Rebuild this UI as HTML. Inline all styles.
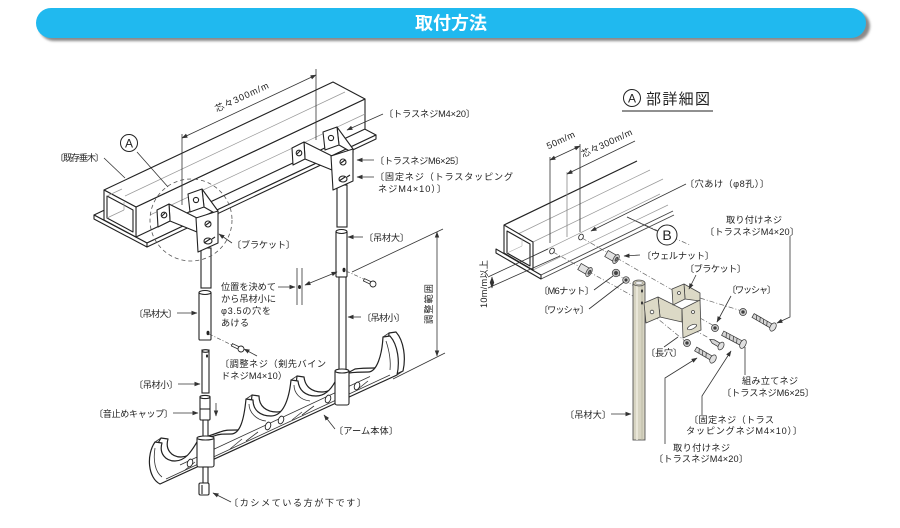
<!DOCTYPE html>
<html><head><meta charset="utf-8">
<style>
html,body{margin:0;padding:0;background:#fff;}
svg{display:block;}
text{font-family:"Liberation Sans","Noto Sans CJK JP",sans-serif;}
.t{font-size:9.2px;fill:#222;}
</style></head><body>
<svg width="900" height="528" viewBox="0 0 900 528" xmlns="http://www.w3.org/2000/svg">
<defs>
<marker id="ar" markerWidth="6" markerHeight="6" refX="5.5" refY="3" orient="auto" markerUnits="userSpaceOnUse">
<path d="M0,0.8 L6,3 L0,5.2 z" fill="#333"/>
</marker>
<marker id="as" markerWidth="6" markerHeight="6" refX="0.5" refY="3" orient="auto" markerUnits="userSpaceOnUse">
<path d="M6,0.8 L0,3 L6,5.2 z" fill="#333"/>
</marker>
<filter id="sh" x="-5%" y="-50%" width="110%" height="200%"><feGaussianBlur stdDeviation="1.3"/></filter>
</defs>

<!-- HEADER -->
<rect x="39" y="11" width="831" height="30" rx="15" fill="#8a8a8a" filter="url(#sh)"/>
<rect x="36" y="8" width="830" height="30" rx="15" fill="#20b9ef"/>
<text x="451" y="29.5" font-size="18" font-weight="bold" fill="#fff" text-anchor="middle">取付方法</text>

<!-- ================= LEFT DIAGRAM ================= -->
<g stroke="#222" stroke-width="1.1" fill="#fff" stroke-linejoin="round">
  <polygon points="94,215 323,107 376,135 147,243"/>
  <polygon points="94,215 147,243 147,247 94,219"/>
  <polygon points="147,243 376,135 376,139 147,247"/>
  <polygon points="136,207 365,99 365,129 136,237"/>
  <polygon points="104,190 333,82 365,99 136,207"/>
  <polygon points="104,190 136,207 136,237 104,220"/>
  <polygon points="107,196 133,210 133,232 107,218"/>
</g>
<g stroke="#999" stroke-width="0.7" fill="none">
  <line x1="107" y1="218" x2="124" y2="210"/>
  <line x1="107" y1="196" x2="122" y2="189"/>
  <line x1="124" y1="210" x2="124" y2="202"/>
  <line x1="150" y1="215" x2="365" y2="114"/>
  <line x1="125" y1="196" x2="345" y2="92"/>
</g>

<!-- dimension 300 (left) -->
<g stroke="#333" stroke-width="0.8" fill="none">
  <line x1="182" y1="134" x2="182" y2="205"/>
  <line x1="316" y1="69" x2="316" y2="140"/>
  <line x1="182" y1="138" x2="316" y2="75" marker-start="url(#as)" marker-end="url(#ar)"/>
</g>
<text class="t" transform="translate(243,100) rotate(-25)" text-anchor="middle" textLength="58">芯々300m/m</text>

<!-- poles left -->
<g fill="#fff" stroke="#222" stroke-width="1.1">
  <rect x="201" y="248" width="10" height="40"/>
  <rect x="199" y="292" width="12" height="48" rx="1"/>
  <ellipse cx="205" cy="292.5" rx="6" ry="2"/>
  <rect x="202" y="350" width="7" height="43"/>
  <ellipse cx="205.5" cy="351" rx="3.5" ry="1.3"/>
  <rect x="200" y="396" width="10" height="24" rx="1"/>
  <line x1="200" y1="409" x2="210" y2="409"/>
  <ellipse cx="205" cy="397" rx="5" ry="1.6"/>
  <rect x="337" y="185" width="10" height="42"/>
  <rect x="336" y="231" width="11" height="46" rx="1"/>
  <ellipse cx="341.5" cy="231.5" rx="5.5" ry="2"/>
  <rect x="339" y="277" width="7" height="93"/>
</g>
<g fill="#222">
  <ellipse cx="208" cy="333" rx="1.5" ry="2.2"/>
  <ellipse cx="344" cy="270" rx="1.5" ry="2.2"/>
  <ellipse cx="207" cy="356" rx="1" ry="1.6"/>
</g>

<!-- brackets (left diagram) -->
<g fill="#fff" stroke="#222" stroke-width="1.1" stroke-linejoin="round">
  <polygon points="169,204 197,218 197,232 170,221"/>
  <polygon points="157,210 169,204 170,221 158,227"/>
  <circle cx="164" cy="215" r="2.8"/>
  <path d="M162,216 l3,-3" fill="none"/>
  <polygon points="202,189 218,211 218,215 204,207"/>
  <polygon points="188,194 202,189 204,207 190,212"/>
  <circle cx="196" cy="200" r="2.6"/>
  <polygon points="196,218 218,211 218,243 198,252"/>
  <circle cx="208" cy="224" r="3"/>
  <path d="M206,225 l4,-3" fill="none"/>
  <ellipse cx="208" cy="241" rx="4" ry="3"/>
  <path d="M204,243 l6,-4 M212,239 l3,-2" fill="none"/>
</g>
<g transform="translate(135,-62)">
 <g fill="#fff" stroke="#222" stroke-width="1.1" stroke-linejoin="round">
  <polygon points="169,204 197,218 197,232 170,221"/>
  <polygon points="157,210 169,204 170,221 158,227"/>
  <circle cx="164" cy="215" r="2.8"/>
  <path d="M162,216 l3,-3" fill="none"/>
  <polygon points="202,189 218,211 218,215 204,207"/>
  <polygon points="188,194 202,189 204,207 190,212"/>
  <circle cx="196" cy="200" r="2.6"/>
  <polygon points="196,218 218,211 218,243 198,252"/>
  <circle cx="208" cy="224" r="3"/>
  <path d="M206,225 l4,-3" fill="none"/>
  <ellipse cx="208" cy="241" rx="4" ry="3"/>
  <path d="M204,243 l6,-4 M212,239 l3,-2" fill="none"/>
 </g>
</g>

<!-- dashed circle & A -->
<circle cx="191" cy="220" r="41" fill="none" stroke="#555" stroke-width="0.8" stroke-dasharray="4,3"/>
<circle cx="129" cy="143" r="8.5" fill="#fff" stroke="#222" stroke-width="1"/>
<text x="129" y="147.5" font-size="12" text-anchor="middle" fill="#222">A</text>
<line x1="137" y1="152" x2="168" y2="187" stroke="#333" stroke-width="0.8"/>

<!-- adjustment screws -->
<line x1="209" y1="334" x2="234" y2="346" stroke="#555" stroke-width="0.7" stroke-dasharray="4,2,1,2"/>
<g transform="translate(241,349) rotate(25)">
  <rect x="-10" y="-1.3" width="9" height="2.6" fill="#fff" stroke="#222" stroke-width="0.8"/>
  <circle cx="0" cy="0" r="3" fill="#fff" stroke="#222" stroke-width="0.9"/>
</g>
<line x1="346" y1="271" x2="366" y2="280" stroke="#555" stroke-width="0.7" stroke-dasharray="4,2,1,2"/>
<g transform="translate(373,284) rotate(25)">
  <rect x="-10" y="-1.3" width="9" height="2.6" fill="#fff" stroke="#222" stroke-width="0.8"/>
  <circle cx="0" cy="0" r="3" fill="#fff" stroke="#222" stroke-width="0.9"/>
</g>

<!-- hole indicator -->
<g stroke="#333" stroke-width="0.8" fill="none">
  <line x1="297" y1="268" x2="297" y2="305"/>
  <line x1="302" y1="268" x2="302" y2="305"/>
  <line x1="305" y1="285" x2="337" y2="272" marker-start="url(#as)" marker-end="url(#ar)"/>
</g>
<ellipse cx="299.5" cy="287" rx="1.5" ry="2" fill="#222"/>

<!-- ARM -->
<g stroke="#222" stroke-width="1.2" fill="#fff" stroke-linejoin="round">
  <path transform="translate(6,-4)" d="M160,484 C148,478 146,455 155,442 L162,443 C159,453 165,461 175,461 C186,461 192,450 197,442 L214,436 C219,434 222,434 231,434 C240,434 244,420 246,399 L253,400 C253,410 260,416 271,416 C283,416 289,400 291,380 L298,381 C299,390 305,396 316,396 C326,396 332,388 336,380 L349,373 C356,372 360,372 368,372 C377,372 382,355 383,337 L390,336 C398,345 400,362 397,375 Z"/>
  <path d="M160,484 C148,478 146,455 155,442 L162,443 C159,453 165,461 175,461 C186,461 192,450 197,442 L214,436 C219,434 222,434 231,434 C240,434 244,420 246,399 L253,400 C253,410 260,416 271,416 C283,416 289,400 291,380 L298,381 C299,390 305,396 316,396 C326,396 332,388 336,380 L349,373 C356,372 360,372 368,372 C377,372 382,355 383,337 L390,336 C398,345 400,362 397,375 Z"/>
</g>
<g stroke="#333" stroke-width="0.8" fill="none">
  <line x1="155" y1="442" x2="161" y2="438"/>
  <line x1="246" y1="399" x2="252" y2="395"/>
  <line x1="291" y1="380" x2="297" y2="376"/>
  <line x1="383" y1="337" x2="389" y2="333"/>
  <line x1="397" y1="375" x2="403" y2="371"/>
  <line x1="166" y1="479" x2="390" y2="375"/>
  <line x1="180" y1="465" x2="370" y2="376.5"/>
  <path d="M185,470 l10,-8 M230,449 l12,-10 M246,441 l12,-9 M292,420 l10,-8 M302,415 l12,-9 M340,398 l8,-6 M358,389 l10,-8"/>
  <path d="M155,448 C153,460 155,472 162,477"/>
  <path d="M249,404 C249,412 256,420 266,421"/>
  <path d="M294,385 C294,393 300,400 310,401"/>
  <path d="M386,341 C389,350 391,360 390,370"/>
</g>
<g fill="#fff" stroke="#222" stroke-width="0.9">
  <ellipse cx="190" cy="463" rx="2.6" ry="4" transform="rotate(20 190 463)"/>
  <ellipse cx="268" cy="426" rx="2.6" ry="4" transform="rotate(20 268 426)"/>
  <ellipse cx="281" cy="420" rx="2.6" ry="4" transform="rotate(20 281 420)"/>
  <ellipse cx="328" cy="399" rx="2.6" ry="4" transform="rotate(20 328 399)"/>
  <ellipse cx="357" cy="386" rx="2.6" ry="4" transform="rotate(20 357 386)"/>
</g>

<!-- lower poles/sleeves over arm -->
<g fill="#fff" stroke="#222" stroke-width="1.1">
  <rect x="203" y="420" width="5" height="17"/>
  <rect x="197" y="437" width="17" height="30" rx="2"/>
  <ellipse cx="205.5" cy="438" rx="8.5" ry="2"/>
  <rect x="203" y="467" width="5" height="16"/>
  <rect x="199" y="483" width="10" height="12" rx="1.5"/>
  <line x1="202" y1="485" x2="202" y2="494"/>
  <rect x="335" y="370" width="14" height="35" rx="2"/>
  <ellipse cx="342" cy="371" rx="7" ry="2"/>
</g>
<line x1="216" y1="403" x2="216" y2="416" stroke="#333" stroke-width="0.8" marker-end="url(#ar)"/>

<!-- adjustment range dim -->
<g stroke="#333" stroke-width="0.8" fill="none">
  <line x1="437" y1="232" x2="437" y2="356" marker-start="url(#as)" marker-end="url(#ar)"/>
  <line x1="443" y1="229" x2="352" y2="272"/>
  <line x1="445" y1="353" x2="393" y2="379"/>
</g>
<text class="t" transform="translate(432,304) rotate(-90)" text-anchor="middle" textLength="40">調整範囲</text>

<!-- left labels & leaders -->
<g stroke="#333" stroke-width="0.8" fill="none">
  <line x1="104" y1="158" x2="125" y2="178"/>
  <line x1="232" y1="243" x2="219" y2="234" marker-end="url(#ar)"/>
  <line x1="383" y1="114" x2="347" y2="130" marker-end="url(#ar)"/>
  <line x1="374" y1="160" x2="357" y2="160" marker-end="url(#ar)"/>
  <line x1="374" y1="177" x2="357" y2="177" marker-end="url(#ar)"/>
  <line x1="363" y1="237" x2="348" y2="237" marker-end="url(#ar)"/>
  <line x1="278" y1="287" x2="295" y2="287" marker-end="url(#ar)"/>
  <line x1="177" y1="313" x2="197" y2="313" marker-end="url(#ar)"/>
  <line x1="257" y1="356" x2="244" y2="349" marker-end="url(#ar)"/>
  <line x1="178" y1="384" x2="200" y2="384" marker-end="url(#ar)"/>
  <line x1="173" y1="413" x2="198" y2="413" marker-end="url(#ar)"/>
  <line x1="335" y1="429" x2="324" y2="415" marker-end="url(#ar)"/>
  <line x1="231" y1="502" x2="213" y2="493" marker-end="url(#ar)"/>
  <line x1="361" y1="317" x2="348" y2="317" marker-end="url(#ar)"/>
</g>
<g>
  <text class="t" x="55" y="161" textLength="49">〔既存垂木〕</text>
  <text class="t" x="232" y="248" textLength="63">〔ブラケット〕</text>
  <text class="t" x="384" y="117" textLength="91">〔トラスネジM4×20〕</text>
  <text class="t" x="375" y="164" textLength="89">〔トラスネジM6×25〕</text>
  <text class="t" x="375" y="180" textLength="138">〔固定ネジ（トラスタッピング</text>
  <text class="t" x="378" y="192" textLength="68">ネジM4×10）〕</text>
  <text class="t" x="364" y="241" textLength="45">〔吊材大〕</text>
  <text class="t" x="221" y="290" textLength="55">位置を決めて</text>
  <text class="t" x="221" y="302" textLength="55">から吊材小に</text>
  <text class="t" x="221" y="314" textLength="50">φ3.5の穴を</text>
  <text class="t" x="221" y="326" textLength="28">あける</text>
  <text class="t" x="134" y="317" textLength="43">〔吊材大〕</text>
  <text class="t" x="220" y="367" textLength="106">〔調整ネジ（剣先バイン</text>
  <text class="t" x="221" y="379" textLength="66">ドネジM4×10）</text>
  <text class="t" x="134" y="388" textLength="44">〔吊材小〕</text>
  <text class="t" x="94" y="417" textLength="79">〔音止めキャップ〕</text>
  <text class="t" x="334" y="434" textLength="64">〔アーム本体〕</text>
  <text class="t" x="229" y="506" textLength="137">〔カシメている方が下です〕</text>
  <text class="t" x="362" y="321" textLength="43">〔吊材小〕</text>
</g>

<!-- ================= RIGHT DETAIL ================= -->
<circle cx="632" cy="98" r="8.5" fill="#fff" stroke="#222" stroke-width="1"/>
<text x="632" y="102.5" font-size="12" text-anchor="middle" fill="#222">A</text>
<text x="646" y="104" font-size="15" fill="#222" textLength="64">部詳細図</text>
<line x1="622" y1="111" x2="713" y2="111" stroke="#222" stroke-width="1"/>

<!-- detail beam -->
<g stroke="#999" stroke-width="0.7" fill="none">
  <line x1="533" y1="242" x2="663" y2="179"/>
  <line x1="518" y1="234" x2="650" y2="170"/>
  <line x1="533" y1="256" x2="660" y2="194"/>
  <line x1="533" y1="270" x2="668" y2="205"/>
</g>
<g stroke="#444" stroke-width="0.9" fill="none">
  <line x1="541" y1="275" x2="673" y2="211"/>
  <line x1="541" y1="279" x2="674" y2="215"/>
</g>
<line x1="504" y1="225" x2="637" y2="161" stroke="#222" stroke-width="1.2"/>
<g stroke="#222" stroke-width="1.1" fill="#fff" stroke-linejoin="round">
  <polygon points="496,249 541,275 541,279 496,253"/>
  <polygon points="504,225 533,242 533,270 504,253"/>
  <polygon points="507,231 530,244 530,266 507,253"/>
</g>
<g stroke="#aaa" stroke-width="0.6">
  <line x1="507" y1="253" x2="522" y2="246"/>
  <line x1="522" y1="246" x2="522" y2="238"/>
</g>
<g fill="#fff" stroke="#222" stroke-width="0.8">
  <ellipse cx="552" cy="251" rx="2.2" ry="3" transform="rotate(25 552 251)"/>
  <ellipse cx="581" cy="237" rx="2.2" ry="3" transform="rotate(25 581 237)"/>
</g>

<!-- dims on detail -->
<g stroke="#333" stroke-width="0.8" fill="none">
  <line x1="550" y1="157" x2="550" y2="243"/>
  <line x1="580" y1="144" x2="580" y2="232"/>
  <line x1="567" y1="172" x2="567" y2="237" stroke="#888"/>
  <line x1="550" y1="160" x2="580" y2="146" marker-start="url(#as)" marker-end="url(#ar)"/>
  <line x1="567" y1="174" x2="635" y2="141" marker-start="url(#as)"/>
  <line x1="492" y1="277" x2="492" y2="288" marker-start="url(#as)" marker-end="url(#ar)"/>
  <line x1="488" y1="277" x2="548" y2="249"/>
  <line x1="488" y1="288" x2="560" y2="256"/>
</g>
<text class="t" transform="translate(562,143) rotate(-25)" text-anchor="middle" textLength="30">50m/m</text>
<text class="t" transform="translate(608,146) rotate(-25)" text-anchor="middle" textLength="55">芯々300m/m</text>
<text class="t" transform="translate(487,284) rotate(-90)" text-anchor="middle" textLength="48">10m/m以上</text>

<!-- dash-dot assembly lines -->
<g stroke="#666" stroke-width="0.7" fill="none" stroke-dasharray="5,2,1,2">
  <line x1="582" y1="238" x2="688" y2="299"/>
  <line x1="553" y1="252" x2="640" y2="300"/>
  <line x1="616" y1="273" x2="642" y2="292"/>
  <line x1="700" y1="298" x2="742" y2="311"/>
  <line x1="700" y1="318" x2="716" y2="327"/>
  <line x1="694" y1="330" x2="709" y2="338"/>
  <line x1="652" y1="314" x2="686" y2="342"/>
  <line x1="627" y1="217" x2="690" y2="245"/>
</g>

<!-- pole right -->
<g>
  <rect x="633" y="283" width="12" height="157" fill="#d7d4c2" stroke="#555" stroke-width="0.9"/>
  <line x1="637" y1="286" x2="637" y2="440" stroke="#efece0" stroke-width="1.5"/>
  <line x1="642" y1="286" x2="642" y2="440" stroke="#b8b49f" stroke-width="0.8"/>
  <ellipse cx="639" cy="283" rx="6" ry="3" fill="#cbc7b3" stroke="#555" stroke-width="0.8"/>
  <ellipse cx="639" cy="283" rx="3.5" ry="1.6" fill="#eee" stroke="#777" stroke-width="0.5"/>
  <ellipse cx="642" cy="291" rx="1" ry="1.6" fill="#333"/>
  <ellipse cx="642" cy="303" rx="1" ry="1.6" fill="#333"/>
</g>

<!-- bracket right -->
<g fill="#dcd9c6" stroke="#444" stroke-width="0.8" stroke-linejoin="round">
  <polygon points="658,297 682,309 682,322 660,317"/>
  <polygon points="644,303 658,297 660,317 646,323"/>
  <circle cx="652" cy="312" r="1.8" fill="#fff"/>
  <polygon points="684,284 700,293 700,301 685,299"/>
  <polygon points="672,289 684,284 685,299 673,305"/>
  <circle cx="679" cy="293" r="1.5" fill="#fff"/>
  <polygon points="682,309 700,300 701,330 683,338"/>
  <ellipse cx="692" cy="327" rx="5" ry="2" transform="rotate(-25 692 327)" fill="#fff"/>
  <circle cx="693" cy="312" r="1.5" fill="#fff"/>
</g>

<!-- wellnuts, nut, washers -->
<g stroke="#333" stroke-width="0.7">
  <g transform="translate(616,259) rotate(30)">
    <rect x="-11" y="-3.5" width="11" height="7" fill="#e2e2e2"/>
    <ellipse cx="0" cy="0" rx="2.5" ry="5" fill="#d0d0d0"/>
    <ellipse cx="0.5" cy="0" rx="1" ry="2.2" fill="#777"/>
  </g>
  <g transform="translate(589,272) rotate(30)">
    <rect x="-11" y="-3.5" width="11" height="7" fill="#e2e2e2"/>
    <ellipse cx="0" cy="0" rx="2.5" ry="5" fill="#d0d0d0"/>
    <ellipse cx="0.5" cy="0" rx="1" ry="2.2" fill="#777"/>
  </g>
  <circle cx="616" cy="273" r="3.8" fill="#bbb"/>
  <circle cx="616" cy="273" r="1.5" fill="#444"/>
  <circle cx="626" cy="280" r="3.3" fill="#ccc"/>
  <circle cx="626" cy="280" r="1.2" fill="#444"/>
  <circle cx="743" cy="312" r="3.5" fill="#ccc"/>
  <circle cx="743" cy="312" r="1.3" fill="#444"/>
  <g transform="translate(773,327) rotate(30)">
    <rect x="-23" y="-2.2" width="23" height="4.4" fill="#d5d5d5"/>
    <path d="M-20,-2.2 l2,4.4 M-16,-2.2 l2,4.4 M-12,-2.2 l2,4.4 M-8,-2.2 l2,4.4" fill="none"/>
    <ellipse cx="0" cy="0" rx="2.8" ry="4.5" fill="#e0e0e0"/>
  </g>
  <circle cx="715" cy="328" r="3.5" fill="#ccc"/>
  <circle cx="715" cy="328" r="1.3" fill="#444"/>
  <g transform="translate(743,344) rotate(28)">
    <rect x="-23" y="-2.4" width="23" height="4.8" fill="#d5d5d5"/>
    <path d="M-20,-2.4 l2,4.8 M-16,-2.4 l2,4.8 M-12,-2.4 l2,4.8 M-8,-2.4 l2,4.8" fill="none"/>
    <ellipse cx="0" cy="0" rx="2.8" ry="4.8" fill="#e0e0e0"/>
  </g>
  <g transform="translate(721,346) rotate(30)">
    <path d="M-13,0 L-9,-2 L0,-2 L0,2 L-9,2 Z" fill="#d5d5d5"/>
    <ellipse cx="0" cy="0" rx="2.6" ry="4.2" fill="#e0e0e0"/>
  </g>
  <circle cx="687" cy="343" r="3.5" fill="#ccc"/>
  <circle cx="687" cy="343" r="1.3" fill="#444"/>
  <g transform="translate(713,359) rotate(30)">
    <rect x="-20" y="-2.2" width="20" height="4.4" fill="#d5d5d5"/>
    <path d="M-17,-2.2 l2,4.4 M-13,-2.2 l2,4.4 M-9,-2.2 l2,4.4" fill="none"/>
    <ellipse cx="0" cy="0" rx="2.8" ry="4.5" fill="#e0e0e0"/>
  </g>
</g>

<!-- B -->
<circle cx="667" cy="235" r="10" fill="#fff" stroke="#222" stroke-width="1"/>
<text x="667" y="240" font-size="14" text-anchor="middle" fill="#222">B</text>

<!-- right leaders -->
<g stroke="#333" stroke-width="0.8" fill="none">
  <line x1="657" y1="231" x2="627" y2="217"/>
  <line x1="686" y1="184" x2="591" y2="231" marker-end="url(#ar)"/>
  <line x1="640" y1="255" x2="624" y2="256" marker-end="url(#ar)"/>
  <polyline points="790,236 790,317 777,323" marker-end="url(#ar)"/>
  <line x1="696" y1="275" x2="689" y2="289" marker-end="url(#ar)"/>
  <line x1="731" y1="296" x2="717" y2="322" marker-end="url(#ar)"/>
  <line x1="594" y1="290" x2="613" y2="276"/>
  <line x1="589" y1="309" x2="624" y2="282"/>
  <line x1="664" y1="347" x2="678" y2="337"/>
  <polyline points="745,375 745,347"/>
  <polyline points="702,415 702,396 731,351" marker-end="url(#ar)"/>
  <polyline points="665,444 665,378 697,358" marker-end="url(#ar)"/>
  <line x1="611" y1="414" x2="631" y2="414" marker-end="url(#ar)"/>
</g>
<g>
  <text class="t" x="685" y="187" textLength="84">〔穴あけ（φ8孔）〕</text>
  <text class="t" x="642" y="259" textLength="72">〔ウェルナット〕</text>
  <text class="t" x="726" y="223" textLength="56">取り付けネジ</text>
  <text class="t" x="705" y="235" textLength="94">〔トラスネジM4×20〕</text>
  <text class="t" x="685" y="272" textLength="61">〔ブラケット〕</text>
  <text class="t" x="727" y="293" textLength="49">〔ワッシャ〕</text>
  <text class="t" x="539" y="294" textLength="55">〔M6ナット〕</text>
  <text class="t" x="539" y="313" textLength="50">〔ワッシャ〕</text>
  <text class="t" x="646" y="356" textLength="36">〔長穴〕</text>
  <text class="t" x="742" y="384" textLength="56">組み立てネジ</text>
  <text class="t" x="722" y="396" textLength="92">〔トラスネジM6×25〕</text>
  <text class="t" x="689" y="423" textLength="85">〔固定ネジ（トラス</text>
  <text class="t" x="686" y="434" textLength="116">タッピングネジM4×10）〕</text>
  <text class="t" x="673" y="451" textLength="57">取り付けネジ</text>
  <text class="t" x="654" y="462" textLength="94">〔トラスネジM4×20〕</text>
  <text class="t" x="565" y="418" textLength="46">〔吊材大〕</text>
</g>
</svg>
</body></html>
